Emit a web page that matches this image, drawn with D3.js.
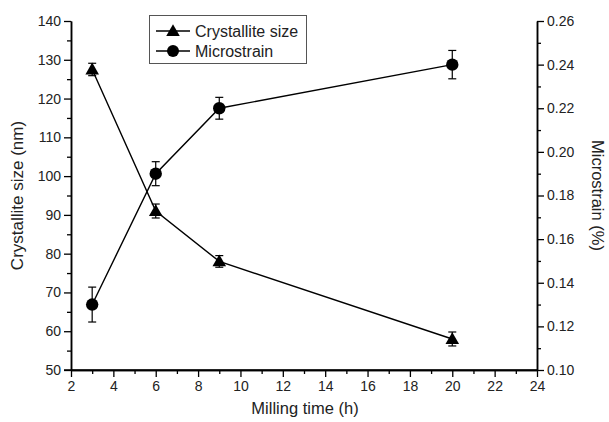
<!DOCTYPE html>
<html><head><meta charset="utf-8">
<script src="https://cdn.jsdelivr.net/npm/d3@7"></script>
<style>body{margin:0;background:#fff}svg{display:block;font-family:"Liberation Sans",Arial,sans-serif}</style>
</head><body><svg id="c" width="609" height="422"></svg>
<script>
const time = [3, 6, 9, 20];
const crystalliteSize = [127.5, 91, 78, 58];
const crystalliteErr = [1.6, 1.8, 1.5, 1.8];
const microstrain = [0.13, 0.19, 0.22, 0.24];
const microstrainErr = [0.008, 0.0055, 0.005, 0.0065];
const xTicks = [2,4,6,8,10,12,14,16,18,20,22,24];
const yLeftTicks = [50,60,70,80,90,100,110,120,130,140];
const yRightTicks = [0.10,0.12,0.14,0.16,0.18,0.20,0.22,0.24,0.26];

const svg = d3.select("#c");
const L = 71, R = 537, T = 21, B = 370;
const x = d3.scaleLinear().domain([2,24]).range([L,R]);
const yl = d3.scaleLinear().domain([50,140]).range([B,T]);
const yr = d3.scaleLinear().domain([0.10,0.26]).range([B,T]);

function styleAxis(g){
  g.selectAll("path.domain").attr("stroke","#000").attr("stroke-width",1.5);
  g.selectAll(".tick line").attr("stroke","#000").attr("stroke-width",1.3);
  g.selectAll(".tick text").attr("font-size",14).attr("fill","#222").attr("font-family","Liberation Sans, Arial, sans-serif");
}
// minor ticks
const xMinor = d3.range(3,24,2);
const ylMinor = d3.range(55,140,10);
const yrMinor = d3.range(0.11,0.26,0.02);
svg.append("g").attr("transform",`translate(0,${B})`).call(d3.axisBottom(x).tickValues(xMinor).tickSize(4).tickFormat("").tickSizeOuter(0)).call(styleAxis);
svg.append("g").attr("transform",`translate(${L},0)`).call(d3.axisLeft(yl).tickValues(ylMinor).tickSize(4).tickFormat("").tickSizeOuter(0)).call(styleAxis);
svg.append("g").attr("transform",`translate(${R},0)`).call(d3.axisRight(yr).tickValues(yrMinor).tickSize(4).tickFormat("").tickSizeOuter(0)).call(styleAxis);

svg.append("g").attr("transform",`translate(0,${B})`).call(d3.axisBottom(x).tickValues(xTicks).tickSize(7).tickPadding(4).tickSizeOuter(0)).call(styleAxis);
svg.append("g").attr("transform",`translate(${L},0)`).call(d3.axisLeft(yl).tickValues(yLeftTicks).tickSize(7).tickPadding(3).tickSizeOuter(0)).call(styleAxis);
svg.append("g").attr("transform",`translate(${R},0)`).call(d3.axisRight(yr).tickValues(yRightTicks).tickSize(7).tickPadding(3).tickFormat(d3.format(".2f")).tickSizeOuter(0)).call(styleAxis);
svg.append("line").attr("x1",L-7).attr("x2",R).attr("y1",B).attr("y2",B).attr("stroke","#000").attr("stroke-width",1.5);

// axis titles
svg.append("text").attr("x",(L+R)/2+1).attr("y",414).attr("text-anchor","middle").attr("font-size",16.5).attr("fill","#222").text("Milling time (h)");
svg.append("text").attr("transform",`translate(23,${(T+B)/2}) rotate(-90)`).attr("text-anchor","middle").attr("font-size",17).attr("fill","#222").text("Crystallite size (nm)");
svg.append("text").attr("transform",`translate(592,${(T+B)/2}) rotate(90)`).attr("text-anchor","middle").attr("font-size",16.5).attr("fill","#222").text("Microstrain (%)");

const plot = svg.append("g");
const cData = time.map((t,i)=>({t, v:crystalliteSize[i], e:crystalliteErr[i]}));
const mData = time.map((t,i)=>({t, v:microstrain[i], e:microstrainErr[i]}));
plot.append("path").datum(cData).attr("fill","none").attr("stroke","#000").attr("stroke-width",1.4)
  .attr("d", d3.line().x(d=>x(d.t)).y(d=>yl(d.v)));
plot.append("path").datum(mData).attr("fill","none").attr("stroke","#000").attr("stroke-width",1.4)
  .attr("d", d3.line().x(d=>x(d.t)).y(d=>yr(d.v)));

function errBars(data, y){
  const g = plot.append("g").attr("stroke","#000").attr("stroke-width",1.2);
  data.forEach(d=>{
    const cx = x(d.t), y1 = y(d.v+d.e), y2 = y(d.v-d.e);
    g.append("line").attr("x1",cx).attr("x2",cx).attr("y1",y1).attr("y2",y2);
    g.append("line").attr("x1",cx-4).attr("x2",cx+4).attr("y1",y1).attr("y2",y1);
    g.append("line").attr("x1",cx-4).attr("x2",cx+4).attr("y1",y2).attr("y2",y2);
  });
}
errBars(cData, yl);
errBars(mData, yr);

const tri = d3.symbol().type(d3.symbolTriangle).size(80);
plot.selectAll("path.tri").data(cData).join("path").attr("class","tri")
  .attr("d",tri).attr("transform",d=>`translate(${x(d.t)},${yl(d.v)+1})`).attr("fill","#000");
plot.selectAll("circle.m").data(mData).join("circle").attr("class","m")
  .attr("cx",d=>x(d.t)).attr("cy",d=>yr(d.v)).attr("r",6.2).attr("fill","#000");

// legend
const lg = svg.append("g");
lg.append("rect").attr("x",149.5).attr("y",15.5).attr("width",157).attr("height",48).attr("fill","#fff").attr("stroke","#555").attr("stroke-width",1);
lg.append("line").attr("x1",156).attr("x2",190).attr("y1",31).attr("y2",31).attr("stroke","#000").attr("stroke-width",1.4);
lg.append("path").attr("d",tri).attr("transform","translate(173,32)").attr("fill","#000");
lg.append("text").attr("x",195).attr("y",37).attr("font-size",16).attr("fill","#222").text("Crystallite size");
lg.append("line").attr("x1",156).attr("x2",190).attr("y1",51).attr("y2",51).attr("stroke","#000").attr("stroke-width",1.4);
lg.append("circle").attr("cx",173).attr("cy",51).attr("r",6).attr("fill","#000");
lg.append("text").attr("x",195).attr("y",57).attr("font-size",16).attr("fill","#222").text("Microstrain");
</script></body></html>
